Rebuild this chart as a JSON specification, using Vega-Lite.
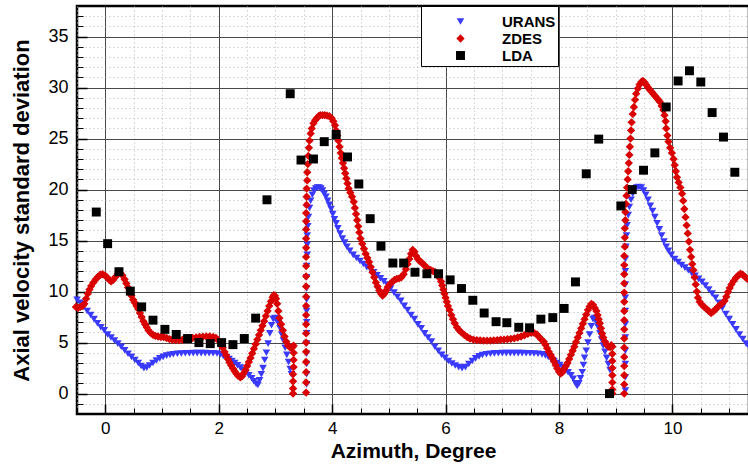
{
  "$schema": "https://vega.github.io/schema/vega-lite/v6.json",
  "width": 672,
  "height": 408,
  "autosize": {"type": "none"},
  "padding": {"left": 77, "top": 6, "right": 0, "bottom": 52},
  "background": "white",
  "config": {
    "view": {"stroke": "black", "strokeWidth": 2.5},
    "font": "Liberation Sans",
    "axis": {"labelFont": "Liberation Sans", "titleFont": "Liberation Sans"}
  },
  "data": {
    "values": [
      {"model":"URANS","az":-0.50,"sd":9.2},{"model":"URANS","az":-0.44,"sd":8.9},{"model":"URANS","az":-0.38,"sd":8.5},{"model":"URANS","az":-0.32,"sd":8.1},
      {"model":"URANS","az":-0.26,"sd":7.7},{"model":"URANS","az":-0.20,"sd":7.3},{"model":"URANS","az":-0.14,"sd":6.9},{"model":"URANS","az":-0.08,"sd":6.5},
      {"model":"URANS","az":-0.02,"sd":6.2},{"model":"URANS","az":0.04,"sd":5.8},{"model":"URANS","az":0.10,"sd":5.5},{"model":"URANS","az":0.16,"sd":5.2},
      {"model":"URANS","az":0.22,"sd":4.9},{"model":"URANS","az":0.28,"sd":4.6},{"model":"URANS","az":0.34,"sd":4.25},{"model":"URANS","az":0.40,"sd":3.9},
      {"model":"URANS","az":0.46,"sd":3.6},{"model":"URANS","az":0.52,"sd":3.3},{"model":"URANS","az":0.58,"sd":3.0},{"model":"URANS","az":0.63,"sd":2.7},
      {"model":"URANS","az":0.68,"sd":2.5},{"model":"URANS","az":0.73,"sd":2.55},{"model":"URANS","az":0.78,"sd":2.75},{"model":"URANS","az":0.84,"sd":3.0},
      {"model":"URANS","az":0.90,"sd":3.25},{"model":"URANS","az":0.96,"sd":3.45},{"model":"URANS","az":1.02,"sd":3.6},{"model":"URANS","az":1.08,"sd":3.72},
      {"model":"URANS","az":1.14,"sd":3.8},{"model":"URANS","az":1.20,"sd":3.86},{"model":"URANS","az":1.27,"sd":3.9},{"model":"URANS","az":1.34,"sd":3.93},
      {"model":"URANS","az":1.41,"sd":3.95},{"model":"URANS","az":1.48,"sd":3.96},{"model":"URANS","az":1.55,"sd":3.97},{"model":"URANS","az":1.62,"sd":3.97},
      {"model":"URANS","az":1.69,"sd":3.97},{"model":"URANS","az":1.76,"sd":3.97},{"model":"URANS","az":1.83,"sd":3.96},{"model":"URANS","az":1.90,"sd":3.95},
      {"model":"URANS","az":1.97,"sd":3.93},{"model":"URANS","az":2.03,"sd":3.85},{"model":"URANS","az":2.08,"sd":3.7},{"model":"URANS","az":2.13,"sd":3.55},
      {"model":"URANS","az":2.18,"sd":3.38},{"model":"URANS","az":2.23,"sd":3.2},{"model":"URANS","az":2.28,"sd":3.0},{"model":"URANS","az":2.33,"sd":2.78},
      {"model":"URANS","az":2.38,"sd":2.55},{"model":"URANS","az":2.43,"sd":2.3},{"model":"URANS","az":2.48,"sd":2.05},{"model":"URANS","az":2.53,"sd":1.8},
      {"model":"URANS","az":2.58,"sd":1.5},{"model":"URANS","az":2.62,"sd":1.2},{"model":"URANS","az":2.66,"sd":0.95},{"model":"URANS","az":2.69,"sd":0.85},
      {"model":"URANS","az":2.72,"sd":1.3},{"model":"URANS","az":2.75,"sd":1.9},{"model":"URANS","az":2.78,"sd":2.5},{"model":"URANS","az":2.81,"sd":3.3},
      {"model":"URANS","az":2.84,"sd":4.0},{"model":"URANS","az":2.87,"sd":4.9},{"model":"URANS","az":2.90,"sd":5.9},{"model":"URANS","az":2.93,"sd":6.7},
      {"model":"URANS","az":2.96,"sd":7.3},{"model":"URANS","az":2.99,"sd":7.4},{"model":"URANS","az":3.02,"sd":7.25},{"model":"URANS","az":3.05,"sd":6.9},
      {"model":"URANS","az":3.08,"sd":6.4},{"model":"URANS","az":3.11,"sd":5.8},{"model":"URANS","az":3.14,"sd":5.2},{"model":"URANS","az":3.17,"sd":4.5},
      {"model":"URANS","az":3.20,"sd":3.8},{"model":"URANS","az":3.23,"sd":3.1},{"model":"URANS","az":3.26,"sd":2.4},{"model":"URANS","az":3.28,"sd":1.9},
      {"model":"URANS","az":3.55,"sd":0.9},{"model":"URANS","az":3.55,"sd":1.9},{"model":"URANS","az":3.55,"sd":2.9},{"model":"URANS","az":3.55,"sd":3.9},
      {"model":"URANS","az":3.55,"sd":4.9},{"model":"URANS","az":3.55,"sd":5.9},{"model":"URANS","az":3.55,"sd":7.0},{"model":"URANS","az":3.55,"sd":8.1},
      {"model":"URANS","az":3.55,"sd":9.2},{"model":"URANS","az":3.55,"sd":10.3},{"model":"URANS","az":3.55,"sd":11.4},{"model":"URANS","az":3.55,"sd":12.5},
      {"model":"URANS","az":3.56,"sd":13.6},{"model":"URANS","az":3.56,"sd":14.6},{"model":"URANS","az":3.56,"sd":15.5},{"model":"URANS","az":3.57,"sd":16.4},
      {"model":"URANS","az":3.58,"sd":17.3},{"model":"URANS","az":3.60,"sd":18.2},{"model":"URANS","az":3.62,"sd":18.9},{"model":"URANS","az":3.65,"sd":19.5},
      {"model":"URANS","az":3.68,"sd":19.9},{"model":"URANS","az":3.71,"sd":20.1},{"model":"URANS","az":3.74,"sd":20.2},{"model":"URANS","az":3.77,"sd":20.2},
      {"model":"URANS","az":3.80,"sd":20.1},{"model":"URANS","az":3.83,"sd":19.9},{"model":"URANS","az":3.86,"sd":19.6},{"model":"URANS","az":3.89,"sd":19.3},
      {"model":"URANS","az":3.92,"sd":18.9},{"model":"URANS","az":3.95,"sd":18.5},{"model":"URANS","az":3.98,"sd":18.1},{"model":"URANS","az":4.01,"sd":17.6},
      {"model":"URANS","az":4.04,"sd":17.1},{"model":"URANS","az":4.07,"sd":16.7},{"model":"URANS","az":4.10,"sd":16.2},{"model":"URANS","az":4.14,"sd":15.7},
      {"model":"URANS","az":4.18,"sd":15.2},{"model":"URANS","az":4.22,"sd":14.8},{"model":"URANS","az":4.26,"sd":14.4},{"model":"URANS","az":4.31,"sd":14.0},
      {"model":"URANS","az":4.37,"sd":13.6},{"model":"URANS","az":4.43,"sd":13.3},{"model":"URANS","az":4.49,"sd":13.0},{"model":"URANS","az":4.55,"sd":12.7},
      {"model":"URANS","az":4.61,"sd":12.4},{"model":"URANS","az":4.67,"sd":12.2},{"model":"URANS","az":4.73,"sd":11.9},{"model":"URANS","az":4.79,"sd":11.6},
      {"model":"URANS","az":4.85,"sd":11.3},{"model":"URANS","az":4.91,"sd":11.0},{"model":"URANS","az":4.97,"sd":10.7},{"model":"URANS","az":5.03,"sd":10.3},
      {"model":"URANS","az":5.09,"sd":9.9},{"model":"URANS","az":5.15,"sd":9.5},{"model":"URANS","az":5.21,"sd":9.1},{"model":"URANS","az":5.27,"sd":8.6},
      {"model":"URANS","az":5.33,"sd":8.2},{"model":"URANS","az":5.39,"sd":7.7},{"model":"URANS","az":5.45,"sd":7.3},{"model":"URANS","az":5.51,"sd":6.8},
      {"model":"URANS","az":5.57,"sd":6.4},{"model":"URANS","az":5.63,"sd":5.9},{"model":"URANS","az":5.69,"sd":5.5},{"model":"URANS","az":5.75,"sd":5.1},
      {"model":"URANS","az":5.81,"sd":4.6},{"model":"URANS","az":5.87,"sd":4.2},{"model":"URANS","az":5.93,"sd":3.8},{"model":"URANS","az":5.99,"sd":3.5},
      {"model":"URANS","az":6.05,"sd":3.2},{"model":"URANS","az":6.11,"sd":2.95},{"model":"URANS","az":6.17,"sd":2.75},{"model":"URANS","az":6.23,"sd":2.6},
      {"model":"URANS","az":6.29,"sd":2.5},{"model":"URANS","az":6.35,"sd":2.6},{"model":"URANS","az":6.41,"sd":2.9},{"model":"URANS","az":6.47,"sd":3.2},
      {"model":"URANS","az":6.53,"sd":3.45},{"model":"URANS","az":6.59,"sd":3.65},{"model":"URANS","az":6.65,"sd":3.78},{"model":"URANS","az":6.72,"sd":3.86},
      {"model":"URANS","az":6.79,"sd":3.91},{"model":"URANS","az":6.86,"sd":3.94},{"model":"URANS","az":6.93,"sd":3.96},{"model":"URANS","az":7.00,"sd":3.97},
      {"model":"URANS","az":7.07,"sd":3.97},{"model":"URANS","az":7.14,"sd":3.97},{"model":"URANS","az":7.21,"sd":3.97},{"model":"URANS","az":7.28,"sd":3.97},
      {"model":"URANS","az":7.35,"sd":3.97},{"model":"URANS","az":7.42,"sd":3.96},{"model":"URANS","az":7.49,"sd":3.95},{"model":"URANS","az":7.56,"sd":3.93},
      {"model":"URANS","az":7.63,"sd":3.9},{"model":"URANS","az":7.70,"sd":3.85},{"model":"URANS","az":7.76,"sd":3.75},{"model":"URANS","az":7.81,"sd":3.6},
      {"model":"URANS","az":7.86,"sd":3.4},{"model":"URANS","az":7.91,"sd":3.2},{"model":"URANS","az":7.96,"sd":3.0},{"model":"URANS","az":8.01,"sd":2.8},
      {"model":"URANS","az":8.06,"sd":2.6},{"model":"URANS","az":8.11,"sd":2.35},{"model":"URANS","az":8.16,"sd":2.1},{"model":"URANS","az":8.21,"sd":1.8},
      {"model":"URANS","az":8.25,"sd":1.45},{"model":"URANS","az":8.29,"sd":1.0},{"model":"URANS","az":8.32,"sd":0.75},{"model":"URANS","az":8.35,"sd":1.0},
      {"model":"URANS","az":8.38,"sd":1.5},{"model":"URANS","az":8.41,"sd":2.1},{"model":"URANS","az":8.43,"sd":2.8},{"model":"URANS","az":8.45,"sd":3.5},
      {"model":"URANS","az":8.48,"sd":4.2},{"model":"URANS","az":8.51,"sd":5.0},{"model":"URANS","az":8.54,"sd":5.8},{"model":"URANS","az":8.57,"sd":6.6},
      {"model":"URANS","az":8.60,"sd":7.3},{"model":"URANS","az":8.63,"sd":7.4},{"model":"URANS","az":8.66,"sd":7.0},{"model":"URANS","az":8.69,"sd":6.5},
      {"model":"URANS","az":8.72,"sd":5.9},{"model":"URANS","az":8.75,"sd":5.3},{"model":"URANS","az":8.78,"sd":4.7},{"model":"URANS","az":8.81,"sd":4.1},
      {"model":"URANS","az":8.84,"sd":3.5},{"model":"URANS","az":8.87,"sd":2.9},{"model":"URANS","az":8.90,"sd":2.3},
      {"model":"URANS","az":9.17,"sd":0.3},{"model":"URANS","az":9.17,"sd":1.6},{"model":"URANS","az":9.17,"sd":2.9},{"model":"URANS","az":9.17,"sd":4.2},
      {"model":"URANS","az":9.17,"sd":5.5},{"model":"URANS","az":9.17,"sd":6.8},{"model":"URANS","az":9.17,"sd":8.1},{"model":"URANS","az":9.17,"sd":9.4},
      {"model":"URANS","az":9.17,"sd":10.7},{"model":"URANS","az":9.17,"sd":12.0},{"model":"URANS","az":9.17,"sd":13.2},{"model":"URANS","az":9.18,"sd":14.4},
      {"model":"URANS","az":9.19,"sd":15.5},{"model":"URANS","az":9.20,"sd":16.5},{"model":"URANS","az":9.22,"sd":17.5},{"model":"URANS","az":9.24,"sd":18.3},
      {"model":"URANS","az":9.27,"sd":19.0},{"model":"URANS","az":9.30,"sd":19.6},{"model":"URANS","az":9.33,"sd":20.0},{"model":"URANS","az":9.37,"sd":20.2},
      {"model":"URANS","az":9.41,"sd":20.25},{"model":"URANS","az":9.45,"sd":20.2},{"model":"URANS","az":9.49,"sd":19.9},{"model":"URANS","az":9.53,"sd":19.5},
      {"model":"URANS","az":9.57,"sd":19.0},{"model":"URANS","az":9.61,"sd":18.4},{"model":"URANS","az":9.65,"sd":17.9},{"model":"URANS","az":9.69,"sd":17.3},
      {"model":"URANS","az":9.73,"sd":16.7},{"model":"URANS","az":9.77,"sd":16.1},{"model":"URANS","az":9.81,"sd":15.5},{"model":"URANS","az":9.85,"sd":14.9},
      {"model":"URANS","az":9.89,"sd":14.4},{"model":"URANS","az":9.93,"sd":14.0},{"model":"URANS","az":9.98,"sd":13.6},{"model":"URANS","az":10.04,"sd":13.2},
      {"model":"URANS","az":10.10,"sd":12.9},{"model":"URANS","az":10.16,"sd":12.6},{"model":"URANS","az":10.22,"sd":12.35},{"model":"URANS","az":10.28,"sd":12.1},
      {"model":"URANS","az":10.34,"sd":11.8},{"model":"URANS","az":10.40,"sd":11.55},{"model":"URANS","az":10.46,"sd":11.25},{"model":"URANS","az":10.52,"sd":10.95},
      {"model":"URANS","az":10.58,"sd":10.6},{"model":"URANS","az":10.64,"sd":10.2},{"model":"URANS","az":10.70,"sd":9.8},{"model":"URANS","az":10.76,"sd":9.4},
      {"model":"URANS","az":10.82,"sd":8.9},{"model":"URANS","az":10.88,"sd":8.4},{"model":"URANS","az":10.94,"sd":7.8},{"model":"URANS","az":11.00,"sd":7.3},
      {"model":"URANS","az":11.06,"sd":6.8},{"model":"URANS","az":11.12,"sd":6.3},{"model":"URANS","az":11.18,"sd":5.8},{"model":"URANS","az":11.24,"sd":5.35},
      {"model":"URANS","az":11.30,"sd":4.9},{"model":"URANS","az":11.36,"sd":4.5},

      {"model":"ZDES","az":-0.52,"sd":8.5},{"model":"ZDES","az":-0.48,"sd":8.4},{"model":"ZDES","az":-0.44,"sd":8.5},{"model":"ZDES","az":-0.40,"sd":8.6},
      {"model":"ZDES","az":-0.37,"sd":8.8},{"model":"ZDES","az":-0.34,"sd":9.3},{"model":"ZDES","az":-0.31,"sd":9.8},{"model":"ZDES","az":-0.28,"sd":10.2},
      {"model":"ZDES","az":-0.25,"sd":10.55},{"model":"ZDES","az":-0.21,"sd":10.9},{"model":"ZDES","az":-0.17,"sd":11.2},{"model":"ZDES","az":-0.13,"sd":11.45},
      {"model":"ZDES","az":-0.09,"sd":11.65},{"model":"ZDES","az":-0.05,"sd":11.7},{"model":"ZDES","az":-0.01,"sd":11.6},{"model":"ZDES","az":0.03,"sd":11.4},
      {"model":"ZDES","az":0.07,"sd":11.15},{"model":"ZDES","az":0.10,"sd":11.0},{"model":"ZDES","az":0.14,"sd":11.15},{"model":"ZDES","az":0.18,"sd":11.45},
      {"model":"ZDES","az":0.22,"sd":11.75},{"model":"ZDES","az":0.26,"sd":11.85},{"model":"ZDES","az":0.30,"sd":11.6},{"model":"ZDES","az":0.34,"sd":11.2},
      {"model":"ZDES","az":0.37,"sd":10.8},{"model":"ZDES","az":0.40,"sd":10.4},{"model":"ZDES","az":0.43,"sd":10.0},{"model":"ZDES","az":0.46,"sd":9.6},
      {"model":"ZDES","az":0.49,"sd":9.2},{"model":"ZDES","az":0.52,"sd":8.9},{"model":"ZDES","az":0.55,"sd":8.6},{"model":"ZDES","az":0.58,"sd":8.3},
      {"model":"ZDES","az":0.61,"sd":7.9},{"model":"ZDES","az":0.64,"sd":7.5},{"model":"ZDES","az":0.67,"sd":7.1},{"model":"ZDES","az":0.70,"sd":6.8},
      {"model":"ZDES","az":0.73,"sd":6.5},{"model":"ZDES","az":0.76,"sd":6.2},{"model":"ZDES","az":0.80,"sd":5.95},{"model":"ZDES","az":0.84,"sd":5.75},
      {"model":"ZDES","az":0.88,"sd":5.65},{"model":"ZDES","az":0.93,"sd":5.6},{"model":"ZDES","az":0.98,"sd":5.55},{"model":"ZDES","az":1.03,"sd":5.55},
      {"model":"ZDES","az":1.08,"sd":5.45},{"model":"ZDES","az":1.13,"sd":5.35},{"model":"ZDES","az":1.18,"sd":5.28},{"model":"ZDES","az":1.24,"sd":5.25},
      {"model":"ZDES","az":1.30,"sd":5.25},{"model":"ZDES","az":1.36,"sd":5.28},{"model":"ZDES","az":1.42,"sd":5.32},{"model":"ZDES","az":1.48,"sd":5.4},
      {"model":"ZDES","az":1.54,"sd":5.45},{"model":"ZDES","az":1.60,"sd":5.5},{"model":"ZDES","az":1.66,"sd":5.55},{"model":"ZDES","az":1.72,"sd":5.58},
      {"model":"ZDES","az":1.78,"sd":5.6},{"model":"ZDES","az":1.84,"sd":5.6},{"model":"ZDES","az":1.90,"sd":5.55},{"model":"ZDES","az":1.95,"sd":5.45},
      {"model":"ZDES","az":1.99,"sd":5.25},{"model":"ZDES","az":2.03,"sd":4.95},{"model":"ZDES","az":2.07,"sd":4.5},{"model":"ZDES","az":2.10,"sd":4.1},
      {"model":"ZDES","az":2.13,"sd":3.75},{"model":"ZDES","az":2.16,"sd":3.4},{"model":"ZDES","az":2.19,"sd":3.05},{"model":"ZDES","az":2.22,"sd":2.75},
      {"model":"ZDES","az":2.25,"sd":2.45},{"model":"ZDES","az":2.28,"sd":2.2},{"model":"ZDES","az":2.31,"sd":1.95},{"model":"ZDES","az":2.34,"sd":1.75},
      {"model":"ZDES","az":2.38,"sd":1.6},{"model":"ZDES","az":2.41,"sd":1.7},{"model":"ZDES","az":2.44,"sd":2.0},{"model":"ZDES","az":2.47,"sd":2.3},
      {"model":"ZDES","az":2.50,"sd":2.7},{"model":"ZDES","az":2.53,"sd":3.1},{"model":"ZDES","az":2.56,"sd":3.5},{"model":"ZDES","az":2.59,"sd":3.95},
      {"model":"ZDES","az":2.62,"sd":4.4},{"model":"ZDES","az":2.65,"sd":4.85},{"model":"ZDES","az":2.68,"sd":5.3},{"model":"ZDES","az":2.71,"sd":5.75},
      {"model":"ZDES","az":2.74,"sd":6.2},{"model":"ZDES","az":2.77,"sd":6.65},{"model":"ZDES","az":2.80,"sd":7.1},{"model":"ZDES","az":2.83,"sd":7.6},
      {"model":"ZDES","az":2.86,"sd":8.1},{"model":"ZDES","az":2.89,"sd":8.6},{"model":"ZDES","az":2.92,"sd":9.05},{"model":"ZDES","az":2.95,"sd":9.45},
      {"model":"ZDES","az":2.97,"sd":9.65},{"model":"ZDES","az":2.99,"sd":9.6},{"model":"ZDES","az":3.01,"sd":9.3},{"model":"ZDES","az":3.03,"sd":8.8},
      {"model":"ZDES","az":3.05,"sd":8.1},{"model":"ZDES","az":3.07,"sd":7.4},{"model":"ZDES","az":3.10,"sd":6.8},{"model":"ZDES","az":3.13,"sd":6.2},
      {"model":"ZDES","az":3.16,"sd":5.6},{"model":"ZDES","az":3.19,"sd":5.1},{"model":"ZDES","az":3.22,"sd":4.75},{"model":"ZDES","az":3.25,"sd":4.55},
      {"model":"ZDES","az":3.28,"sd":4.45},{"model":"ZDES","az":3.30,"sd":4.55},{"model":"ZDES","az":3.32,"sd":4.7},{"model":"ZDES","az":3.32,"sd":4.0},
      {"model":"ZDES","az":3.32,"sd":3.3},{"model":"ZDES","az":3.32,"sd":2.6},{"model":"ZDES","az":3.31,"sd":1.9},{"model":"ZDES","az":3.31,"sd":1.2},
      {"model":"ZDES","az":3.31,"sd":0.5},{"model":"ZDES","az":3.31,"sd":0.0},
      {"model":"ZDES","az":3.54,"sd":0.1},{"model":"ZDES","az":3.54,"sd":1.1},{"model":"ZDES","az":3.54,"sd":2.1},{"model":"ZDES","az":3.54,"sd":3.1},
      {"model":"ZDES","az":3.54,"sd":4.1},{"model":"ZDES","az":3.54,"sd":5.0},{"model":"ZDES","az":3.54,"sd":5.9},{"model":"ZDES","az":3.54,"sd":6.8},
      {"model":"ZDES","az":3.54,"sd":7.7},{"model":"ZDES","az":3.54,"sd":8.6},{"model":"ZDES","az":3.54,"sd":9.5},{"model":"ZDES","az":3.54,"sd":10.5},
      {"model":"ZDES","az":3.54,"sd":11.5},{"model":"ZDES","az":3.54,"sd":12.5},{"model":"ZDES","az":3.54,"sd":13.4},{"model":"ZDES","az":3.54,"sd":14.3},
      {"model":"ZDES","az":3.54,"sd":15.2},{"model":"ZDES","az":3.54,"sd":16.1},{"model":"ZDES","az":3.54,"sd":16.9},{"model":"ZDES","az":3.54,"sd":17.7},
      {"model":"ZDES","az":3.55,"sd":18.5},{"model":"ZDES","az":3.55,"sd":19.3},{"model":"ZDES","az":3.55,"sd":20.1},{"model":"ZDES","az":3.56,"sd":20.9},
      {"model":"ZDES","az":3.56,"sd":21.7},{"model":"ZDES","az":3.57,"sd":22.5},{"model":"ZDES","az":3.58,"sd":23.3},{"model":"ZDES","az":3.59,"sd":24.1},
      {"model":"ZDES","az":3.60,"sd":24.8},{"model":"ZDES","az":3.62,"sd":25.5},{"model":"ZDES","az":3.64,"sd":26.0},{"model":"ZDES","az":3.67,"sd":26.5},
      {"model":"ZDES","az":3.70,"sd":26.8},{"model":"ZDES","az":3.73,"sd":27.0},{"model":"ZDES","az":3.76,"sd":27.2},{"model":"ZDES","az":3.79,"sd":27.3},
      {"model":"ZDES","az":3.83,"sd":27.3},{"model":"ZDES","az":3.87,"sd":27.3},{"model":"ZDES","az":3.91,"sd":27.25},{"model":"ZDES","az":3.95,"sd":27.2},
      {"model":"ZDES","az":3.99,"sd":27.0},{"model":"ZDES","az":4.02,"sd":26.7},{"model":"ZDES","az":4.05,"sd":26.3},{"model":"ZDES","az":4.07,"sd":25.8},
      {"model":"ZDES","az":4.09,"sd":25.3},{"model":"ZDES","az":4.11,"sd":24.8},{"model":"ZDES","az":4.13,"sd":24.2},{"model":"ZDES","az":4.15,"sd":23.6},
      {"model":"ZDES","az":4.17,"sd":23.1},{"model":"ZDES","az":4.19,"sd":22.6},{"model":"ZDES","az":4.21,"sd":22.1},{"model":"ZDES","az":4.23,"sd":21.6},
      {"model":"ZDES","az":4.25,"sd":21.1},{"model":"ZDES","az":4.27,"sd":20.6},{"model":"ZDES","az":4.29,"sd":20.1},{"model":"ZDES","az":4.32,"sd":19.7},
      {"model":"ZDES","az":4.35,"sd":19.3},{"model":"ZDES","az":4.38,"sd":18.8},{"model":"ZDES","az":4.40,"sd":18.2},{"model":"ZDES","az":4.42,"sd":17.6},
      {"model":"ZDES","az":4.44,"sd":17.0},{"model":"ZDES","az":4.46,"sd":16.4},{"model":"ZDES","az":4.48,"sd":15.8},{"model":"ZDES","az":4.50,"sd":15.2},
      {"model":"ZDES","az":4.53,"sd":14.7},{"model":"ZDES","az":4.56,"sd":14.2},{"model":"ZDES","az":4.59,"sd":13.7},{"model":"ZDES","az":4.62,"sd":13.3},
      {"model":"ZDES","az":4.65,"sd":12.9},{"model":"ZDES","az":4.68,"sd":12.4},{"model":"ZDES","az":4.71,"sd":11.9},{"model":"ZDES","az":4.74,"sd":11.4},
      {"model":"ZDES","az":4.77,"sd":10.9},{"model":"ZDES","az":4.80,"sd":10.5},{"model":"ZDES","az":4.83,"sd":10.1},{"model":"ZDES","az":4.86,"sd":9.8},
      {"model":"ZDES","az":4.89,"sd":9.6},{"model":"ZDES","az":4.92,"sd":9.8},{"model":"ZDES","az":4.95,"sd":10.1},{"model":"ZDES","az":4.98,"sd":10.45},
      {"model":"ZDES","az":5.02,"sd":10.75},{"model":"ZDES","az":5.06,"sd":10.95},{"model":"ZDES","az":5.10,"sd":11.15},{"model":"ZDES","az":5.14,"sd":11.25},
      {"model":"ZDES","az":5.18,"sd":11.3},{"model":"ZDES","az":5.22,"sd":11.4},{"model":"ZDES","az":5.26,"sd":11.7},{"model":"ZDES","az":5.30,"sd":12.2},
      {"model":"ZDES","az":5.33,"sd":12.7},{"model":"ZDES","az":5.36,"sd":13.2},{"model":"ZDES","az":5.39,"sd":13.7},{"model":"ZDES","az":5.42,"sd":14.1},
      {"model":"ZDES","az":5.45,"sd":13.9},{"model":"ZDES","az":5.48,"sd":13.5},{"model":"ZDES","az":5.51,"sd":13.2},{"model":"ZDES","az":5.54,"sd":13.0},
      {"model":"ZDES","az":5.58,"sd":12.85},{"model":"ZDES","az":5.62,"sd":12.6},{"model":"ZDES","az":5.66,"sd":12.4},{"model":"ZDES","az":5.70,"sd":12.2},
      {"model":"ZDES","az":5.74,"sd":12.1},{"model":"ZDES","az":5.78,"sd":12.0},{"model":"ZDES","az":5.82,"sd":11.9},{"model":"ZDES","az":5.86,"sd":11.7},
      {"model":"ZDES","az":5.89,"sd":11.35},{"model":"ZDES","az":5.92,"sd":11.0},{"model":"ZDES","az":5.94,"sd":10.6},{"model":"ZDES","az":5.96,"sd":10.2},
      {"model":"ZDES","az":5.98,"sd":9.8},{"model":"ZDES","az":6.00,"sd":9.4},{"model":"ZDES","az":6.02,"sd":9.0},{"model":"ZDES","az":6.04,"sd":8.6},
      {"model":"ZDES","az":6.07,"sd":8.2},{"model":"ZDES","az":6.10,"sd":7.7},{"model":"ZDES","az":6.13,"sd":7.3},{"model":"ZDES","az":6.16,"sd":6.9},
      {"model":"ZDES","az":6.20,"sd":6.5},{"model":"ZDES","az":6.24,"sd":6.2},{"model":"ZDES","az":6.28,"sd":6.0},{"model":"ZDES","az":6.33,"sd":5.75},
      {"model":"ZDES","az":6.38,"sd":5.55},{"model":"ZDES","az":6.43,"sd":5.4},{"model":"ZDES","az":6.49,"sd":5.3},{"model":"ZDES","az":6.55,"sd":5.25},
      {"model":"ZDES","az":6.61,"sd":5.22},{"model":"ZDES","az":6.67,"sd":5.2},{"model":"ZDES","az":6.73,"sd":5.2},{"model":"ZDES","az":6.79,"sd":5.2},
      {"model":"ZDES","az":6.85,"sd":5.22},{"model":"ZDES","az":6.91,"sd":5.25},{"model":"ZDES","az":6.97,"sd":5.28},{"model":"ZDES","az":7.03,"sd":5.3},
      {"model":"ZDES","az":7.09,"sd":5.33},{"model":"ZDES","az":7.15,"sd":5.37},{"model":"ZDES","az":7.21,"sd":5.42},{"model":"ZDES","az":7.27,"sd":5.5},
      {"model":"ZDES","az":7.33,"sd":5.6},{"model":"ZDES","az":7.39,"sd":5.72},{"model":"ZDES","az":7.45,"sd":5.85},{"model":"ZDES","az":7.51,"sd":5.95},
      {"model":"ZDES","az":7.56,"sd":5.95},{"model":"ZDES","az":7.61,"sd":5.8},{"model":"ZDES","az":7.65,"sd":5.55},{"model":"ZDES","az":7.69,"sd":5.3},
      {"model":"ZDES","az":7.73,"sd":5.1},{"model":"ZDES","az":7.76,"sd":4.8},{"model":"ZDES","az":7.79,"sd":4.45},{"model":"ZDES","az":7.82,"sd":4.1},
      {"model":"ZDES","az":7.85,"sd":3.8},{"model":"ZDES","az":7.88,"sd":3.5},{"model":"ZDES","az":7.91,"sd":3.15},{"model":"ZDES","az":7.94,"sd":2.8},
      {"model":"ZDES","az":7.97,"sd":2.45},{"model":"ZDES","az":8.00,"sd":2.15},{"model":"ZDES","az":8.03,"sd":1.95},{"model":"ZDES","az":8.06,"sd":2.1},
      {"model":"ZDES","az":8.09,"sd":2.4},{"model":"ZDES","az":8.12,"sd":2.7},{"model":"ZDES","az":8.15,"sd":3.0},{"model":"ZDES","az":8.18,"sd":3.4},
      {"model":"ZDES","az":8.21,"sd":3.8},{"model":"ZDES","az":8.24,"sd":4.2},{"model":"ZDES","az":8.27,"sd":4.6},{"model":"ZDES","az":8.30,"sd":5.05},
      {"model":"ZDES","az":8.33,"sd":5.5},{"model":"ZDES","az":8.36,"sd":5.95},{"model":"ZDES","az":8.39,"sd":6.4},{"model":"ZDES","az":8.42,"sd":6.85},
      {"model":"ZDES","az":8.45,"sd":7.3},{"model":"ZDES","az":8.48,"sd":7.75},{"model":"ZDES","az":8.51,"sd":8.2},{"model":"ZDES","az":8.54,"sd":8.55},
      {"model":"ZDES","az":8.57,"sd":8.8},{"model":"ZDES","az":8.60,"sd":8.7},{"model":"ZDES","az":8.63,"sd":8.4},{"model":"ZDES","az":8.66,"sd":8.1},
      {"model":"ZDES","az":8.68,"sd":7.7},{"model":"ZDES","az":8.70,"sd":7.3},{"model":"ZDES","az":8.72,"sd":6.9},{"model":"ZDES","az":8.74,"sd":6.4},
      {"model":"ZDES","az":8.76,"sd":5.9},{"model":"ZDES","az":8.78,"sd":5.5},{"model":"ZDES","az":8.81,"sd":5.1},{"model":"ZDES","az":8.84,"sd":4.8},
      {"model":"ZDES","az":8.87,"sd":4.6},{"model":"ZDES","az":8.90,"sd":4.55},{"model":"ZDES","az":8.92,"sd":4.75},{"model":"ZDES","az":8.94,"sd":4.6},
      {"model":"ZDES","az":8.94,"sd":3.9},{"model":"ZDES","az":8.94,"sd":3.2},{"model":"ZDES","az":8.94,"sd":2.5},{"model":"ZDES","az":8.94,"sd":1.8},
      {"model":"ZDES","az":8.94,"sd":1.1},{"model":"ZDES","az":8.94,"sd":0.4},{"model":"ZDES","az":8.94,"sd":0.0},
      {"model":"ZDES","az":9.15,"sd":0.0},{"model":"ZDES","az":9.15,"sd":0.9},{"model":"ZDES","az":9.15,"sd":1.8},{"model":"ZDES","az":9.15,"sd":2.7},
      {"model":"ZDES","az":9.15,"sd":3.6},{"model":"ZDES","az":9.15,"sd":4.5},{"model":"ZDES","az":9.15,"sd":5.4},{"model":"ZDES","az":9.15,"sd":6.3},
      {"model":"ZDES","az":9.15,"sd":7.2},{"model":"ZDES","az":9.15,"sd":8.1},{"model":"ZDES","az":9.15,"sd":9.0},{"model":"ZDES","az":9.15,"sd":9.9},
      {"model":"ZDES","az":9.15,"sd":10.8},{"model":"ZDES","az":9.15,"sd":11.7},{"model":"ZDES","az":9.15,"sd":12.6},{"model":"ZDES","az":9.15,"sd":13.5},
      {"model":"ZDES","az":9.16,"sd":14.4},{"model":"ZDES","az":9.16,"sd":15.3},{"model":"ZDES","az":9.16,"sd":16.2},{"model":"ZDES","az":9.17,"sd":17.0},
      {"model":"ZDES","az":9.17,"sd":17.8},{"model":"ZDES","az":9.18,"sd":18.6},{"model":"ZDES","az":9.19,"sd":19.4},{"model":"ZDES","az":9.20,"sd":20.2},
      {"model":"ZDES","az":9.21,"sd":21.0},{"model":"ZDES","az":9.22,"sd":21.8},{"model":"ZDES","az":9.23,"sd":22.6},{"model":"ZDES","az":9.24,"sd":23.4},
      {"model":"ZDES","az":9.25,"sd":24.2},{"model":"ZDES","az":9.26,"sd":25.0},{"model":"ZDES","az":9.27,"sd":25.8},{"model":"ZDES","az":9.28,"sd":26.6},
      {"model":"ZDES","az":9.30,"sd":27.4},{"model":"ZDES","az":9.32,"sd":28.1},{"model":"ZDES","az":9.34,"sd":28.8},{"model":"ZDES","az":9.36,"sd":29.4},
      {"model":"ZDES","az":9.39,"sd":29.9},{"model":"ZDES","az":9.42,"sd":30.3},{"model":"ZDES","az":9.45,"sd":30.55},{"model":"ZDES","az":9.48,"sd":30.65},
      {"model":"ZDES","az":9.51,"sd":30.5},{"model":"ZDES","az":9.54,"sd":30.25},{"model":"ZDES","az":9.57,"sd":30.0},{"model":"ZDES","az":9.60,"sd":29.8},
      {"model":"ZDES","az":9.63,"sd":29.6},{"model":"ZDES","az":9.66,"sd":29.4},{"model":"ZDES","az":9.69,"sd":29.2},{"model":"ZDES","az":9.72,"sd":29.0},
      {"model":"ZDES","az":9.75,"sd":28.8},{"model":"ZDES","az":9.78,"sd":28.6},{"model":"ZDES","az":9.81,"sd":28.2},{"model":"ZDES","az":9.84,"sd":27.8},
      {"model":"ZDES","az":9.86,"sd":27.3},{"model":"ZDES","az":9.88,"sd":26.7},{"model":"ZDES","az":9.89,"sd":26.0},{"model":"ZDES","az":9.91,"sd":25.3},
      {"model":"ZDES","az":9.93,"sd":24.7},{"model":"ZDES","az":9.96,"sd":24.1},{"model":"ZDES","az":9.99,"sd":23.6},{"model":"ZDES","az":10.02,"sd":23.0},
      {"model":"ZDES","az":10.04,"sd":22.4},{"model":"ZDES","az":10.06,"sd":21.8},{"model":"ZDES","az":10.08,"sd":21.2},{"model":"ZDES","az":10.11,"sd":20.7},
      {"model":"ZDES","az":10.14,"sd":20.2},{"model":"ZDES","az":10.17,"sd":19.6},{"model":"ZDES","az":10.19,"sd":18.9},{"model":"ZDES","az":10.21,"sd":18.1},
      {"model":"ZDES","az":10.23,"sd":17.3},{"model":"ZDES","az":10.25,"sd":16.5},{"model":"ZDES","az":10.27,"sd":15.7},{"model":"ZDES","az":10.29,"sd":14.9},
      {"model":"ZDES","az":10.31,"sd":14.1},{"model":"ZDES","az":10.33,"sd":13.4},{"model":"ZDES","az":10.35,"sd":12.7},{"model":"ZDES","az":10.37,"sd":12.1},
      {"model":"ZDES","az":10.39,"sd":11.4},{"model":"ZDES","az":10.41,"sd":10.7},{"model":"ZDES","az":10.43,"sd":10.0},{"model":"ZDES","az":10.45,"sd":9.4},
      {"model":"ZDES","az":10.48,"sd":9.0},{"model":"ZDES","az":10.52,"sd":8.7},{"model":"ZDES","az":10.56,"sd":8.5},{"model":"ZDES","az":10.60,"sd":8.3},
      {"model":"ZDES","az":10.64,"sd":8.1},{"model":"ZDES","az":10.68,"sd":7.9},{"model":"ZDES","az":10.72,"sd":8.05},{"model":"ZDES","az":10.76,"sd":8.25},
      {"model":"ZDES","az":10.80,"sd":8.5},{"model":"ZDES","az":10.84,"sd":8.7},{"model":"ZDES","az":10.88,"sd":8.85},{"model":"ZDES","az":10.92,"sd":9.1},
      {"model":"ZDES","az":10.95,"sd":9.5},{"model":"ZDES","az":10.98,"sd":9.95},{"model":"ZDES","az":11.01,"sd":10.35},{"model":"ZDES","az":11.04,"sd":10.7},
      {"model":"ZDES","az":11.08,"sd":11.05},{"model":"ZDES","az":11.12,"sd":11.35},{"model":"ZDES","az":11.16,"sd":11.6},{"model":"ZDES","az":11.20,"sd":11.75},
      {"model":"ZDES","az":11.24,"sd":11.65},{"model":"ZDES","az":11.28,"sd":11.45},{"model":"ZDES","az":11.32,"sd":11.25},{"model":"ZDES","az":11.36,"sd":11.1},

      {"model":"LDA","az":-0.16,"sd":17.8},{"model":"LDA","az":0.04,"sd":14.7},{"model":"LDA","az":0.24,"sd":11.95},{"model":"LDA","az":0.44,"sd":10.05},
      {"model":"LDA","az":0.64,"sd":8.5},{"model":"LDA","az":0.84,"sd":7.2},{"model":"LDA","az":1.05,"sd":6.3},{"model":"LDA","az":1.25,"sd":5.8},
      {"model":"LDA","az":1.45,"sd":5.4},{"model":"LDA","az":1.65,"sd":5.0},{"model":"LDA","az":1.85,"sd":4.9},{"model":"LDA","az":2.05,"sd":5.0},
      {"model":"LDA","az":2.25,"sd":4.8},{"model":"LDA","az":2.45,"sd":5.4},{"model":"LDA","az":2.65,"sd":7.4},{"model":"LDA","az":2.85,"sd":19.0},
      {"model":"LDA","az":3.26,"sd":29.4},{"model":"LDA","az":3.45,"sd":22.9},{"model":"LDA","az":3.67,"sd":23.0},{"model":"LDA","az":3.86,"sd":24.7},
      {"model":"LDA","az":4.07,"sd":25.4},{"model":"LDA","az":4.27,"sd":23.2},{"model":"LDA","az":4.47,"sd":20.55},{"model":"LDA","az":4.67,"sd":17.15},
      {"model":"LDA","az":4.86,"sd":14.45},{"model":"LDA","az":5.07,"sd":12.8},{"model":"LDA","az":5.26,"sd":12.8},{"model":"LDA","az":5.46,"sd":11.9},
      {"model":"LDA","az":5.67,"sd":11.75},{"model":"LDA","az":5.875,"sd":11.75},{"model":"LDA","az":6.08,"sd":11.15},{"model":"LDA","az":6.28,"sd":10.3},
      {"model":"LDA","az":6.48,"sd":9.15},{"model":"LDA","az":6.68,"sd":7.9},{"model":"LDA","az":6.89,"sd":7.05},{"model":"LDA","az":7.08,"sd":6.95},
      {"model":"LDA","az":7.29,"sd":6.5},{"model":"LDA","az":7.48,"sd":6.45},{"model":"LDA","az":7.68,"sd":7.3},{"model":"LDA","az":7.89,"sd":7.45},
      {"model":"LDA","az":8.09,"sd":8.35},{"model":"LDA","az":8.29,"sd":10.95},{"model":"LDA","az":8.48,"sd":21.55},{"model":"LDA","az":8.70,"sd":24.95},
      {"model":"LDA","az":8.89,"sd":0.0},{"model":"LDA","az":9.09,"sd":18.4},{"model":"LDA","az":9.29,"sd":20.0},{"model":"LDA","az":9.49,"sd":21.9},
      {"model":"LDA","az":9.69,"sd":23.6},{"model":"LDA","az":9.89,"sd":28.1},{"model":"LDA","az":10.10,"sd":30.65},{"model":"LDA","az":10.30,"sd":31.65},
      {"model":"LDA","az":10.50,"sd":30.55},{"model":"LDA","az":10.70,"sd":27.55},{"model":"LDA","az":10.90,"sd":25.15},{"model":"LDA","az":11.10,"sd":21.7}
    ]
  },
  "layer": [
    {
      "description": "Minor grid and minor inward ticks",
      "mark": {"type": "point", "opacity": 0},
      "encoding": {
        "x": {
          "field": "az", "type": "quantitative",
          "scale": {"domain": [-0.5, 11.35], "nice": false, "zero": false},
          "axis": {
            "orient": "bottom", "title": null, "labels": false, "domain": false,
            "values": [-0.5, 0.5, 1, 1.5, 2.5, 3, 3.5, 4.5, 5, 5.5, 6.5, 7, 7.5, 8.5, 9, 9.5, 10.5, 11],
            "grid": true, "gridColor": "#b4b4b4", "gridDash": [1, 3], "gridWidth": 1,
            "ticks": true, "tickSize": -6, "tickColor": "#000000", "tickWidth": 1
          }
        },
        "y": {
          "field": "sd", "type": "quantitative",
          "scale": {"domain": [-2, 38], "nice": false, "zero": false},
          "axis": {
            "orient": "left", "title": null, "labels": false, "domain": false,
            "values": [-1, 1, 2, 3, 4, 6, 7, 8, 9, 11, 12, 13, 14, 16, 17, 18, 19, 21, 22, 23, 24, 26, 27, 28, 29, 31, 32, 33, 34, 36, 37],
            "grid": true, "gridColor": "#b4b4b4", "gridDash": [1, 3], "gridWidth": 1,
            "ticks": true, "tickSize": -6, "tickColor": "#000000", "tickWidth": 1
          }
        }
      }
    },
    {
      "description": "URANS, ZDES and LDA scatter with major grid and labelled axes",
      "mark": {"type": "point", "filled": true, "opacity": 1, "strokeWidth": 0},
      "encoding": {
        "x": {
          "field": "az", "type": "quantitative",
          "scale": {"domain": [-0.5, 11.35], "nice": false, "zero": false},
          "axis": {
            "orient": "bottom", "title": "Azimuth, Degree", "domain": false,
            "values": [0, 2, 4, 6, 8, 10],
            "grid": true, "gridColor": "#4a4a4a", "gridWidth": 1,
            "ticks": true, "tickSize": -10, "tickColor": "#000000", "tickWidth": 1.5,
            "labelFontSize": 17, "labelColor": "#000000", "labelPadding": 16, "labelFlush": false,
            "titleFontSize": 21, "titleFontWeight": "bold", "titleColor": "#000000", "titlePadding": 4
          }
        },
        "y": {
          "field": "sd", "type": "quantitative",
          "scale": {"domain": [-2, 38], "nice": false, "zero": false},
          "axis": {
            "orient": "left", "title": "Axial velocity standard deviation", "domain": false,
            "values": [0, 5, 10, 15, 20, 25, 30, 35],
            "grid": true, "gridColor": "#4a4a4a", "gridWidth": 1,
            "ticks": true, "tickSize": -10, "tickColor": "#000000", "tickWidth": 1.5,
            "labelFontSize": 18, "labelColor": "#000000", "labelPadding": 19,
            "titleFontSize": 22, "titleFontWeight": "bold", "titleColor": "#000000", "titlePadding": 14
          }
        },
        "color": {
          "field": "model", "type": "nominal",
          "scale": {"domain": ["URANS", "ZDES", "LDA"], "range": ["#3a3aff", "#d90000", "#000000"]},
          "legend": {
            "orient": "none", "legendX": 344, "legendY": 0,
            "title": " ", "titleFontSize": 6, "titlePadding": 0,
            "padding": 2, "fillColor": "#ffffff", "strokeColor": "#000000",
            "labelFontSize": 15, "labelFontWeight": "bold", "labelColor": "#000000", "labelFont": "Liberation Sans",
            "rowPadding": 1, "symbolOffset": 30, "labelOffset": 34
          }
        },
        "shape": {
          "field": "model", "type": "nominal",
          "scale": {"domain": ["URANS", "ZDES", "LDA"], "range": ["triangle-down", "diamond", "square"]}
        },
        "size": {
          "field": "model", "type": "nominal",
          "scale": {"domain": ["URANS", "ZDES", "LDA"], "range": [58, 80, 38]}
        }
      }
    }
  ],
  "resolve": {"axis": {"x": "independent", "y": "independent"}}
}
